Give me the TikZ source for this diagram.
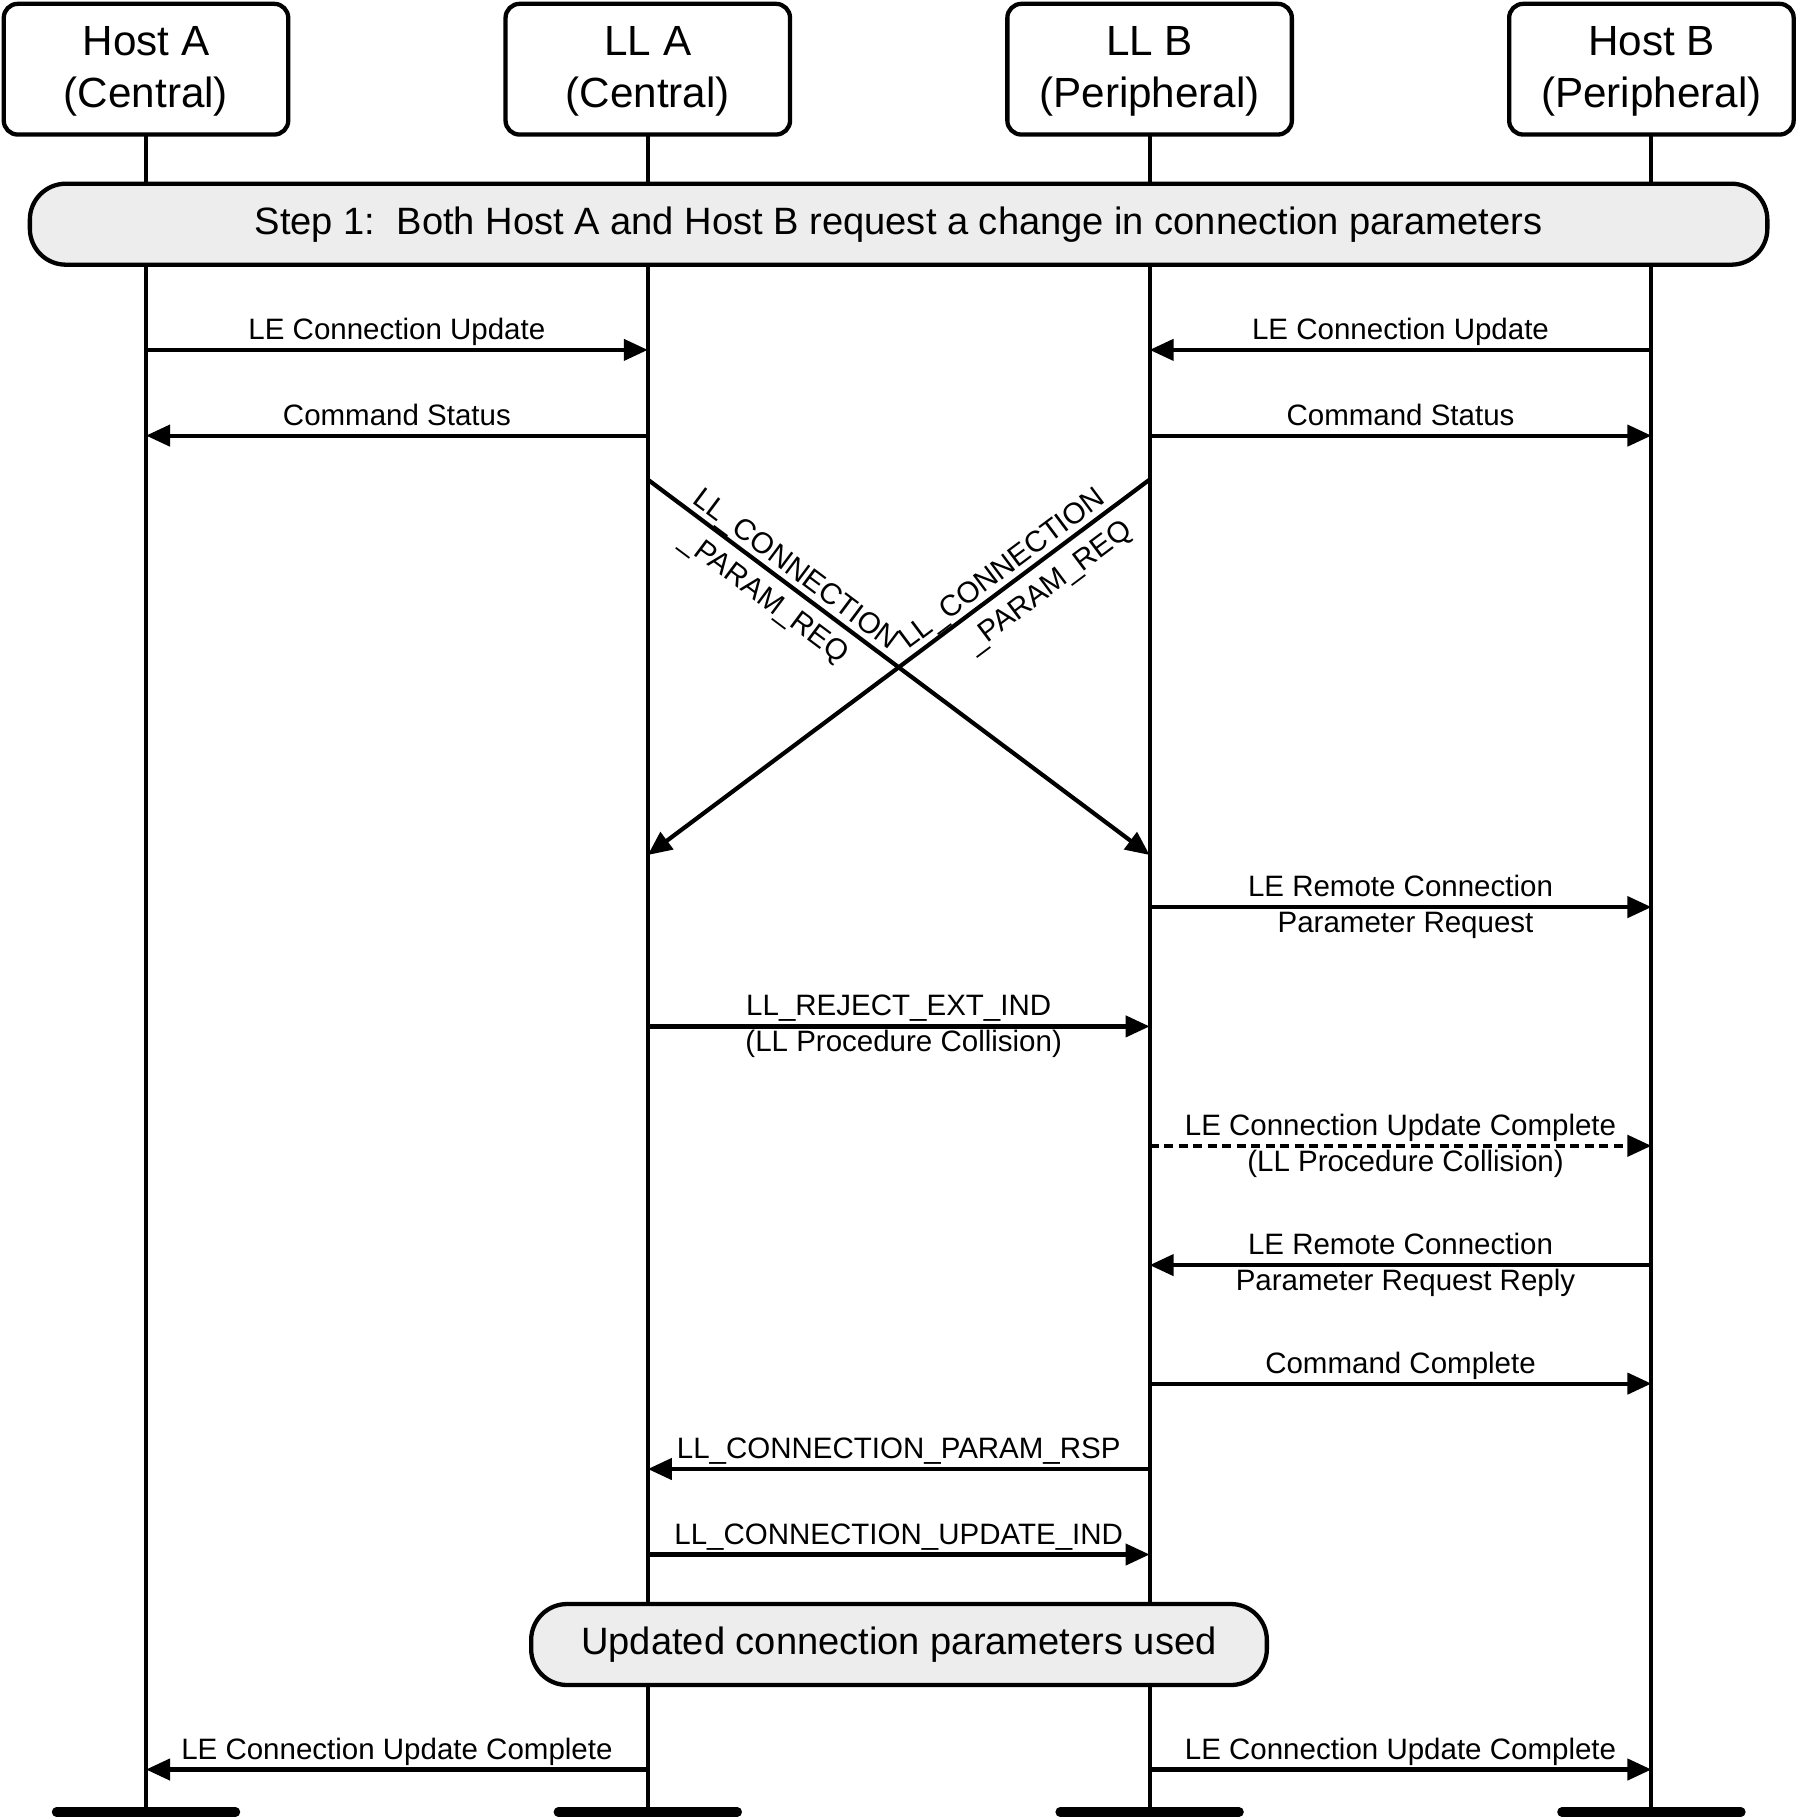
\documentclass[tikz,border=0pt]{standalone}
\usepackage{fontspec}
\setmainfont{Liberation Sans}
\usetikzlibrary{arrows.meta}
\definecolor{boxgray}{RGB}{237,237,237}
\begin{document}
\begin{tikzpicture}[x=1pt,y=-1pt,
  every node/.style={inner sep=0pt,outer sep=0pt},
  lifeline/.style={line width=4pt},
  endbar/.style={line width=9.4pt,line cap=round},
  hdbox/.style={draw,line width=4.3pt,rounded corners=14pt,minimum width=284.5pt,minimum height=130.7pt,fill=white},
  hdtext/.style={align=center,font=\fontsize{42.2}{51.3}\selectfont},
  phasebox/.style={draw,line width=4.3pt,rounded corners=36pt,fill=boxgray,minimum height=81pt,font=\fontsize{38.1}{44}\selectfont},
  msg/.style={line width=4.2pt,-{Triangle[length=24pt,width=21pt]}},
  dmsg/.style={msg,dash pattern=on 9pt off 5.5pt},
  lbl/.style={font=\fontsize{29.5}{35}\selectfont},
  lup/.style={lbl,anchor=base,yshift=10.5pt},
  ldn/.style={lbl,anchor=base,yshift=-25.5pt,xshift=5pt},
]
\useasboundingbox (0,0) rectangle (1798,1817);

% header boxes
\node[hdbox] (hA) at (146,69.2) {};
\node[hdbox] (lA) at (647.8,69.2) {};
\node[hdbox] (lB) at (1149.6,69.2) {};
\node[hdbox] (hB) at (1651.4,69.2) {};
\node[hdtext] (hAt) at ([yshift=-2.3pt]hA.center) {Host A\\(Central)};
\node[hdtext] (lAt) at ([yshift=-2.3pt]lA.center) {LL A\\(Central)};
\node[hdtext] (lBt) at ([yshift=-2.3pt]lB.center) {LL B\\(Peripheral)};
\node[hdtext] (hBt) at ([yshift=-2.3pt]hB.center) {Host B\\(Peripheral)};

% lifeline ends
\coordinate (hAe) at (146,1812);
\coordinate (lAe) at (647.8,1812);
\coordinate (lBe) at (1149.6,1812);
\coordinate (hBe) at (1651.4,1812);

\draw[lifeline] (hA.south) -- (hAe);
\draw[lifeline] (lA.south) -- (lAe);
\draw[lifeline] (lB.south) -- (lBe);
\draw[lifeline] (hB.south) -- (hBe);

\draw[endbar] ([xshift=-89.5pt]hAe) -- ([xshift=89.5pt]hAe);
\draw[endbar] ([xshift=-89.5pt]lAe) -- ([xshift=89.5pt]lAe);
\draw[endbar] ([xshift=-89.5pt]lBe) -- ([xshift=89.5pt]lBe);
\draw[endbar] ([xshift=-89.5pt]hBe) -- ([xshift=89.5pt]hBe);

% phase boxes
\node[phasebox,minimum width=1737.5pt] (step) at (898.6,224.2) {Step 1:~~Both Host A and Host B request a change in connection parameters};
\node[phasebox,minimum width=735.7pt] (upd) at (899,1644.5) {Updated connection parameters used};

% message coordinates
\foreach \n/\y in {1/349.9,2/435.6,4/907.1,5/1026.4,6/1145.8,7/1265.1,8/1383.6,9/1469,10/1554.5,11/1769.5}{
  \coordinate (A\n) at (146,\y);
  \coordinate (B\n) at (647.8,\y);
  \coordinate (C\n) at (1149.6,\y);
  \coordinate (D\n) at (1651.4,\y);
}
\coordinate (X1s) at (647.8,479.6);
\coordinate (X1e) at (1149.6,855);
\coordinate (X2s) at (1149.6,479.6);
\coordinate (X2e) at (647.8,855);

% messages
\draw[msg] (A1) -- (B1) node[midway,lup]{LE Connection Update};
\draw[msg] (D1) -- (C1) node[midway,lup]{LE Connection Update};
\draw[msg] (B2) -- (A2) node[midway,lup]{Command Status};
\draw[msg] (C2) -- (D2) node[midway,lup]{Command Status};

\draw[msg] (X1s) -- (X1e)
  node[pos=0.275,sloped,lbl,yshift=15.3pt]{LL\_CONNECTION}
  node[pos=0.262,sloped,lbl,yshift=-25.5pt]{\_PARAM\_REQ};
\draw[msg] (X2s) -- (X2e)
  node[pos=0.273,sloped,lbl,yshift=15.3pt]{LL\_CONNECTION}
  node[pos=0.231,sloped,lbl,yshift=-26.5pt]{\_PARAM\_REQ};

\draw[msg] (C4) -- (D4) node[midway,lup]{LE Remote Connection} node[midway,ldn]{Parameter Request};
\draw[msg] (B5) -- (C5) node[midway,lup]{LL\_REJECT\_EXT\_IND} node[midway,ldn]{(LL Procedure Collision)};
\draw[dmsg] (C6) -- (D6) node[midway,lup]{LE Connection Update Complete} node[midway,ldn]{(LL Procedure Collision)};
\draw[msg] (D7) -- (C7) node[midway,lup]{LE Remote Connection} node[midway,ldn]{Parameter Request Reply};
\draw[msg] (C8) -- (D8) node[midway,lup]{Command Complete};
\draw[msg] (C9) -- (B9) node[midway,lup]{LL\_CONNECTION\_PARAM\_RSP};
\draw[msg] (B10) -- (C10) node[midway,lup]{LL\_CONNECTION\_UPDATE\_IND};
\draw[msg] (B11) -- (A11) node[midway,lup]{LE Connection Update Complete};
\draw[msg] (C11) -- (D11) node[midway,lup]{LE Connection Update Complete};
\end{tikzpicture}
\end{document}
